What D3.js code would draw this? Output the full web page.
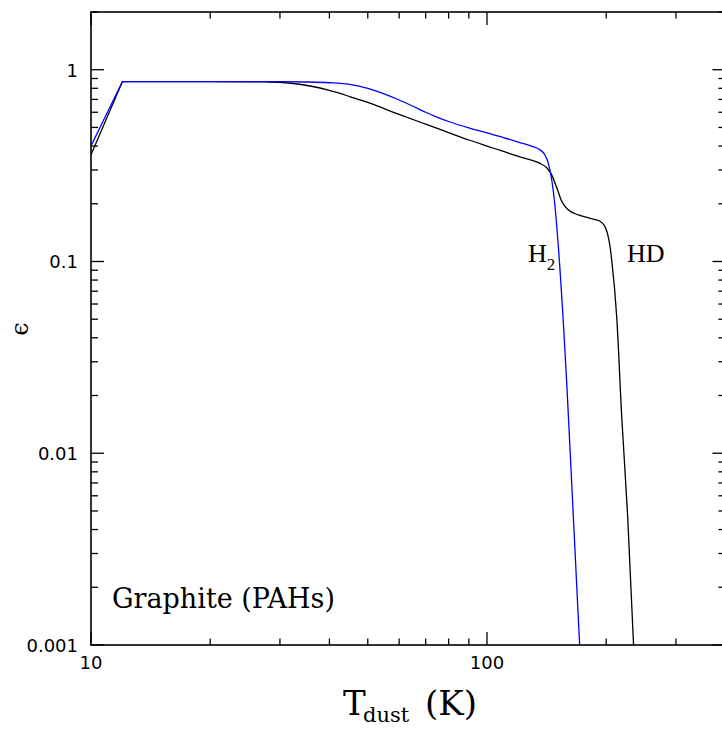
<!DOCTYPE html>
<html>
<head>
<meta charset="utf-8">
<script src="https://cdn.jsdelivr.net/npm/d3@7"></script>
<style>
  html, body { margin: 0; padding: 0; background: #fff; }
  svg { display: block; overflow: hidden; }
</style>
</head>
<body>
<div id="chart"></div>
<script>
// Dust temperature (K) and formation efficiency
const tempH2 = [10, 12, 20, 30, 35, 40, 45, 50, 55, 60, 65, 70, 75, 80, 90, 100, 110, 121, 130, 136, 140, 142.8, 145.7, 148.5, 151.4, 159, 165.2, 171.4];
const epsH2  = [0.40, 0.866, 0.866, 0.866, 0.863, 0.855, 0.838, 0.80, 0.748, 0.695, 0.645, 0.60, 0.565, 0.537, 0.497, 0.468, 0.443, 0.417, 0.398, 0.383, 0.36, 0.326, 0.267, 0.194, 0.12, 0.0232, 0.00468, 0.001];

const tempHD = [10, 12, 20, 28, 32, 36, 40, 45, 50, 60, 70, 80, 90, 100, 110, 120, 130, 136, 141.5, 145.7, 150, 154.4, 160.4, 170, 182, 193, 198.6, 201.3, 204.5, 206.5, 212.6, 218.9, 226.6, 234.5];
const epsHD  = [0.36, 0.866, 0.866, 0.863, 0.85, 0.82, 0.78, 0.725, 0.675, 0.585, 0.52, 0.47, 0.43, 0.40, 0.375, 0.353, 0.337, 0.325, 0.308, 0.283, 0.243, 0.206, 0.186, 0.175, 0.168, 0.162, 0.152, 0.141, 0.120, 0.102, 0.0516, 0.0155, 0.00468, 0.001];

const xTickLabels = [10, 100];
const yTickLabels = [1, 0.1, 0.01, 0.001];

const width = 722;
const height = 731;
const plot = { left: 91, right: 725.4, top: 12, bottom: 645 };

const svg = d3.select("#chart").append("svg")
    .attr("width", width)
    .attr("height", height);

const x = d3.scaleLog().domain([10, 400]).range([plot.left, plot.right]);
const y = d3.scaleLog().domain([0.001, 2]).range([plot.bottom, plot.top]);

const isMajor = v => Math.abs(Math.log10(v) - Math.round(Math.log10(v))) < 1e-9;

// clip for curves
svg.append("clipPath").attr("id", "clip")
  .append("rect")
    .attr("x", plot.left).attr("y", plot.top)
    .attr("width", plot.right - plot.left)
    .attr("height", plot.bottom - plot.top);

// ticks on all four sides, pointing inwards
const ticks = svg.append("g").attr("stroke", "#000").attr("stroke-width", 1.3);

x.ticks().forEach(v => {
    const px = x(v);
    const len = isMajor(v) ? 13 : 6.5;
    ticks.append("line").attr("x1", px).attr("x2", px).attr("y1", plot.bottom).attr("y2", plot.bottom - len);
    ticks.append("line").attr("x1", px).attr("x2", px).attr("y1", plot.top).attr("y2", plot.top + len);
});

y.ticks().forEach(v => {
    const py = y(v);
    const len = isMajor(v) ? 13 : 7;
    ticks.append("line").attr("x1", plot.left).attr("x2", plot.left + len).attr("y1", py).attr("y2", py);
    ticks.append("line").attr("x1", plot.right).attr("x2", plot.right - len).attr("y1", py).attr("y2", py);
});

// frame
svg.append("rect")
    .attr("x", plot.left).attr("y", plot.top)
    .attr("width", plot.right - plot.left)
    .attr("height", plot.bottom - plot.top)
    .attr("fill", "none")
    .attr("stroke", "#000")
    .attr("stroke-width", 1.6);

// tick labels
svg.append("g").selectAll("text")
    .data(xTickLabels)
    .enter().append("text")
    .attr("x", d => x(d))
    .attr("y", 669)
    .attr("text-anchor", "middle")
    .style("font-family", "DejaVu Sans")
    .style("font-size", "18px")
    .text(d => d);

svg.append("g").selectAll("text")
    .data(yTickLabels)
    .enter().append("text")
    .attr("x", 78)
    .attr("y", d => y(d) + 7)
    .attr("text-anchor", "end")
    .style("font-family", "DejaVu Sans")
    .style("font-size", "18px")
    .text(d => d3.format("~g")(d));

// curves: straight rise from 10 K to 12 K, smooth afterwards
const straight = d3.line()
    .x(d => x(d[0]))
    .y(d => y(d[1]));

const smooth = d3.line()
    .x(d => x(d[0]))
    .y(d => y(d[1]))
    .curve(d3.curveMonotoneX);

const curves = svg.append("g").attr("clip-path", "url(#clip)");

function drawCurve(temps, effs, color) {
    const pts = d3.zip(temps, effs);
    const d = straight(pts.slice(0, 2)) + smooth(pts.slice(1)).replace(/^M/, "L");
    curves.append("path")
        .attr("d", d)
        .attr("fill", "none")
        .attr("stroke", color)
        .attr("stroke-width", 1.3)
        .attr("stroke-linejoin", "round");
}

drawCurve(tempHD, epsHD, "#000");
drawCurve(tempH2, epsH2, "#0000ff");

// curve labels
const h2 = svg.append("text")
    .attr("x", 528)
    .attr("y", 262)
    .style("font-family", "Liberation Serif")
    .style("font-size", "26px");
h2.append("tspan").text("H");
h2.append("tspan").attr("dy", 8).style("font-size", "17px").text("2");

svg.append("text")
    .attr("x", 627)
    .attr("y", 262)
    .style("font-family", "Liberation Serif")
    .style("font-size", "26px")
    .text("HD");

svg.append("text")
    .attr("x", 112)
    .attr("y", 608)
    .style("font-family", "DejaVu Serif")
    .style("font-size", "27px")
    .text("Graphite (PAHs)");

// axis titles
const xt = svg.append("g").style("font-family", "DejaVu Serif");
xt.append("text").attr("x", 343).attr("y", 715).style("font-size", "34px").text("T");
xt.append("text").attr("x", 363).attr("y", 722).style("font-size", "21px").text("dust");
xt.append("text").attr("x", 425).attr("y", 715).style("font-size", "34px").text("(K)");

svg.append("text")
    .attr("transform", "translate(20,329) rotate(-90)")
    .attr("text-anchor", "middle")
    .attr("dominant-baseline", "central")
    .style("font-family", "DejaVu Serif")
    .style("font-size", "24px")
    .text("\u03f5");
</script>
</body>
</html>
